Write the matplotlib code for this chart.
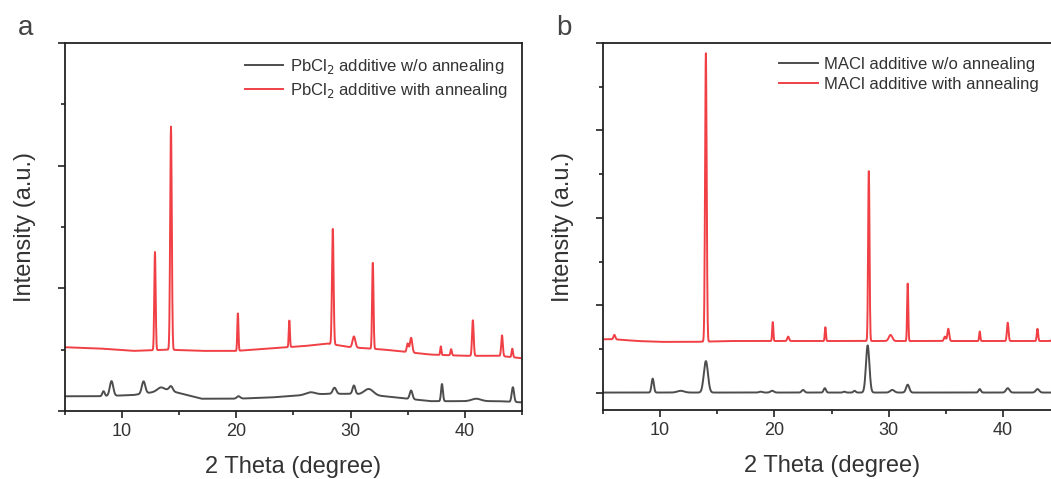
import numpy as np
import matplotlib.pyplot as plt

plt.rcParams['font.family'] = ['Liberation Sans', 'DejaVu Sans']

# panel a, PbCl2 additive
a_base_x = [5, 8, 11, 14, 17, 20, 23, 26, 28, 30, 33, 35, 37, 40, 43, 45]
a_red_base = [0.52, 0.51, 0.49, 0.50, 0.49, 0.49, 0.51, 0.53, 0.55, 0.52, 0.50, 0.48, 0.46, 0.45, 0.45, 0.43]
a_black_base = [0.12, 0.12, 0.13, 0.17, 0.10, 0.10, 0.11, 0.13, 0.14, 0.14, 0.12, 0.10, 0.08, 0.08, 0.08, 0.07]

a_red_pos = [12.9, 14.3, 20.15, 24.65, 28.45, 30.3, 31.95, 35.0, 35.3, 37.9, 38.8, 40.7, 43.25, 44.15]
a_red_h = [0.80, 1.82, 0.31, 0.22, 0.95, 0.09, 0.71, 0.07, 0.12, 0.07, 0.05, 0.29, 0.17, 0.07]
a_red_w = [0.06, 0.07, 0.05, 0.05, 0.07, 0.12, 0.06, 0.08, 0.1, 0.05, 0.06, 0.07, 0.07, 0.06]

a_black_pos = [8.4, 9.1, 11.9, 13.4, 14.3, 20.2, 26.5, 28.6, 30.3, 31.6, 35.3, 38.0, 41.0, 44.2]
a_black_h = [0.04, 0.12, 0.10, 0.03, 0.04, 0.02, 0.02, 0.05, 0.07, 0.05, 0.07, 0.14, 0.02, 0.12]
a_black_w = [0.1, 0.15, 0.15, 0.3, 0.15, 0.15, 0.4, 0.15, 0.12, 0.4, 0.12, 0.08, 0.4, 0.1]

# panel b, MACl additive
b_base_x = [5, 6, 8, 10, 13, 16, 20, 25, 30, 35, 40, 45]
b_red_base = [0.61, 0.61, 0.59, 0.58, 0.58, 0.59, 0.59, 0.59, 0.59, 0.59, 0.59, 0.59]
b_black_base = [0.0, 0.0, 0.0, 0.0, 0.0, 0.0, 0.0, 0.0, 0.0, 0.0, 0.0, 0.0]

b_red_pos = [6.0, 14.0, 19.85, 21.2, 24.45, 28.25, 30.15, 31.65, 34.9, 35.2, 37.95, 40.4, 43.0, 44.4]
b_red_h = [0.05, 3.30, 0.22, 0.05, 0.16, 1.97, 0.07, 0.67, 0.05, 0.14, 0.11, 0.21, 0.14, 0.12]
b_red_w = [0.08, 0.07, 0.05, 0.08, 0.05, 0.06, 0.15, 0.05, 0.08, 0.08, 0.05, 0.07, 0.06, 0.08]

b_black_pos = [9.35, 11.8, 14.0, 18.8, 19.8, 22.5, 24.4, 26.1, 27.0, 28.15, 30.3, 31.65, 37.95, 40.4, 43.0]
b_black_h = [0.16, 0.02, 0.36, 0.01, 0.02, 0.03, 0.05, 0.01, 0.02, 0.54, 0.03, 0.09, 0.04, 0.05, 0.04]
b_black_w = [0.1, 0.3, 0.18, 0.15, 0.15, 0.12, 0.1, 0.1, 0.1, 0.15, 0.18, 0.14, 0.1, 0.15, 0.15]

RED = '#f04045'
GRAY = '#4d4d4d'

x = np.arange(5, 45.001, 0.02)


def pattern(base_x, base_y, pos, h, w):
	y = np.interp(x, base_x, base_y)
	for p, hh, ww in zip(pos, h, w):
		y = y + hh * np.exp(-0.5 * ((x - p) / ww) ** 2)
	return y


def setup(ax, ylim, major, letter, labels, anchor_x=1.0):
	ax.set_xlim(5, 45)
	ax.set_ylim(*ylim)
	ax.set_xticks([10, 20, 30, 40])
	ax.set_xticks([5, 15, 25, 35, 45], minor=True)
	ax.set_yticks(np.arange(max(ylim[0], 0), ylim[1] + 0.01, major))
	ax.set_yticks(np.arange(major / 2, ylim[1], major), minor=True)
	ax.set_yticklabels([])
	ax.tick_params(which='both', direction='out', width=1.2, colors='#222222', labelcolor='#333333', labelsize=13)
	ax.tick_params(which='major', length=5)
	ax.tick_params(which='minor', length=3)
	for s in ax.spines.values():
		s.set_linewidth(1.3)
		s.set_color('#222222')
	ax.set_xlabel('2 Theta (degree)', fontsize=17, color='#333333', labelpad=12)
	ax.set_ylabel('Intensity (a.u.)', fontsize=17, color='#333333', labelpad=12)
	ax.text(-0.085, 1.04, letter, transform=ax.transAxes, fontsize=20, color='#444444', ha='center', va='center')
	leg = ax.legend(labels, loc='upper right', bbox_to_anchor=(anchor_x, 1.0), frameon=False,
		fontsize=12, handlelength=2.3, handletextpad=0.4, labelspacing=0.3, borderaxespad=0.45)
	for t in leg.get_texts():
		t.set_color('#333333')


fig = plt.figure(figsize=(10.51, 4.79), dpi=100)
ax1 = fig.add_axes([0.0615, 0.142, 0.4352, 0.768])
ax2 = fig.add_axes([0.5737, 0.144, 0.4352, 0.766])

ax1.plot(x, pattern(a_base_x, a_black_base, a_black_pos, a_black_h, a_black_w), color=GRAY, lw=1.4)
ax1.plot(x, pattern(a_base_x, a_red_base, a_red_pos, a_red_h, a_red_w), color=RED, lw=1.4)
setup(ax1, (0, 3), 1, 'a', ['PbCl$_2$ additive w/o annealing', 'PbCl$_2$ additive with annealing'])

ax2.plot(x, pattern(b_base_x, b_black_base, b_black_pos, b_black_h, b_black_w), color=GRAY, lw=1.4)
ax2.plot(x, pattern(b_base_x, b_red_base, b_red_pos, b_red_h, b_red_w), color=RED, lw=1.4)
setup(ax2, (-0.2, 4.0), 1, 'b', ['MACl additive w/o annealing', 'MACl additive with annealing'],
	anchor_x=(1.0 - 0.5737) / 0.4352 + 0.005)

fig.savefig('out.png', dpi=100)
